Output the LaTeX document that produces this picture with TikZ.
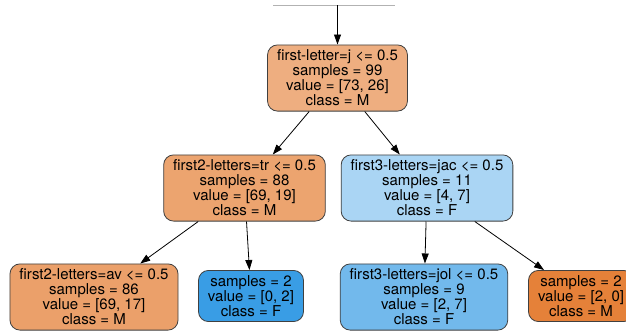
\documentclass[tikz,border=0pt]{standalone}
\usepackage{fontspec}
\setmainfont{TeX Gyre Heros}
\usetikzlibrary{arrows.meta}

\definecolor{rootfill}{RGB}{238,174,128}
\definecolor{trfill}{RGB}{236,164,111}
\definecolor{avfill}{RGB}{235,160,106}
\definecolor{jacfill}{RGB}{170,213,244}
\definecolor{jolfill}{RGB}{114,185,236}
\definecolor{purefill}{RGB}{57,157,229}
\definecolor{pureM}{RGB}{229,129,57}
\definecolor{edgegray}{RGB}{64,64,64}

\begin{document}
\begin{tikzpicture}[x=1pt,y=1pt,yscale=-1,xscale=1,
  treenode/.style={draw=edgegray, line width=0.8pt, rounded corners=10pt, align=center,
    inner xsep=9.5pt, inner ysep=5pt, font=\fontsize{15}{15}\selectfont},
  edge/.style={-{Triangle[length=10pt,width=7pt]}, line width=0.8pt}]
\useasboundingbox (0,0) rectangle (626,330);

% top rule and incoming edge
\coordinate (ruleL) at (273,5);
\coordinate (ruleR) at (395,5);
\coordinate (parent) at (337.5,5);
\draw [black!30, line width=0.8pt] (ruleL) -- (ruleR);

% Nodes
\node [treenode, fill=rootfill] (root) at (337.5,78) {first-letter=j <= 0.5\\samples = 99\\value = [73, 26]\\class = M};
\node [treenode, fill=trfill] (tr) at (244.5,188) {first2-letters=tr <= 0.5\\samples = 88\\value = [69, 19]\\class = M};
\node [treenode, fill=jacfill] (jac) at (427,188) {first3-letters=jac <= 0.5\\samples = 11\\value = [4, 7]\\class = F};
\node [treenode, fill=avfill] (av) at (94,297) {first2-letters=av <= 0.5\\samples = 86\\value = [69, 17]\\class = M};
\node [treenode, fill=purefill] (leafF) at (251,296) {samples = 2\\value = [0, 2]\\class = F};
\node [treenode, fill=jolfill] (jol) at (424,297) {first3-letters=jol <= 0.5\\samples = 9\\value = [2, 7]\\class = F};
\node [treenode, fill=pureM] (leafM) at (581,296) {samples = 2\\value = [2, 0]\\class = M};

% Edges
\draw [edge] (parent) -- (root);
\draw [edge] (root) -- (tr);
\draw [edge] (root) -- (jac);
\draw [edge] (tr) -- (av);
\draw [edge] (tr) -- (leafF);
\draw [edge] (jac) -- (jol);
\draw [edge] (jac) -- (leafM);

\end{tikzpicture}
\end{document}
